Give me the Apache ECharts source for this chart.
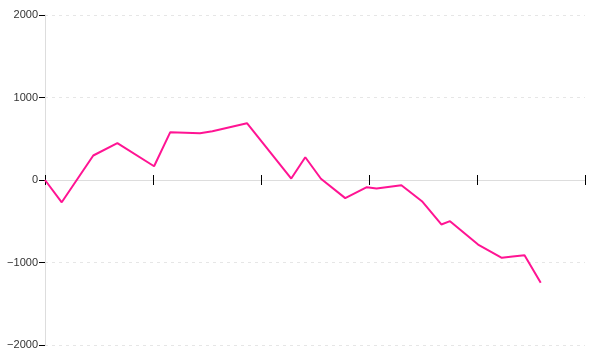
<!DOCTYPE html>
<html><head><meta charset="utf-8">
<script src="https://cdn.jsdelivr.net/npm/echarts@6/dist/echarts.min.js"></script>
<style>html,body{margin:0;padding:0;background:#fff}#c{width:600px;height:360px}</style>
</head><body><div id="c"></div>
<script>
var xValues = [0, 15.5, 44.7, 67, 101, 116, 143.5, 155, 187, 228, 241, 255.5, 278, 298, 307, 330, 349, 367, 375, 401, 423, 433, 444, 459];
var yValues = [0, -270, 297, 446, 167, 580, 567, 590, 688, 18, 276, 15, -220, -87, -103, -63, -257, -539, -499, -782, -943, -927, -911, -1246];
var yTicks = [-2000, -1000, 0, 1000, 2000];

var points = xValues.map(function (x, i) { return [x, yValues[i]]; });
var chart = echarts.init(document.getElementById('c'), null, {renderer: 'canvas'});
chart.setOption({
  animation: false,
  grid: {left: 45, right: 15, top: 15, bottom: 15, containLabel: false, outerBoundsMode: 'none'},
  xAxis: [{
    type: 'value', min: 0, max: 500, interval: 100,
    axisLine: {show: true, onZero: true, lineStyle: {color: '#ddd', width: 1}},
    axisTick: {show: true, inside: false, length: 5, lineStyle: {color: '#000', width: 1}},
    axisLabel: {show: false},
    splitLine: {show: false}
  }, {
    type: 'value', min: 0, max: 500, interval: 100, position: 'bottom',
    axisLine: {show: false, onZero: true, onZeroAxisIndex: 0},
    axisTick: {show: true, inside: true, length: 5, lineStyle: {color: '#000', width: 1}},
    axisLabel: {show: false},
    splitLine: {show: false}
  }],
  yAxis: {
    type: 'value', min: yTicks[0], max: yTicks[yTicks.length - 1], interval: 1000,
    axisLine: {show: true, lineStyle: {color: '#ddd', width: 1}},
    axisTick: {show: true, length: 6, lineStyle: {color: '#000', width: 1}},
    axisLabel: {show: true, margin: 7, color: '#333', fontSize: 11, fontFamily: 'Liberation Sans',
      formatter: function (v) { return v < 0 ? '\u2212' + Math.abs(v) : String(v); }},
    splitLine: {show: true, lineStyle: {color: '#e6e6e6', type: [3, 4], width: 1}}
  },
  series: [{
    type: 'line', data: points, showSymbol: false, symbol: 'none',
    lineStyle: {color: '#ff1493', width: 2}, itemStyle: {color: '#ff1493'}
  }]
});
</script></body></html>
